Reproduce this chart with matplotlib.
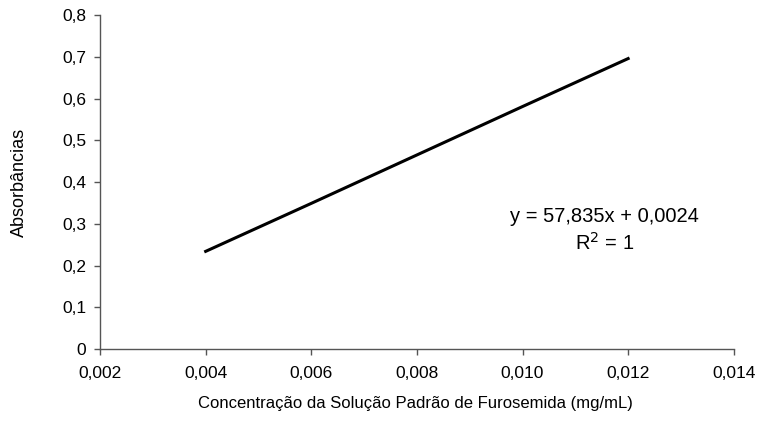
import matplotlib.pyplot as plt
from matplotlib.ticker import FuncFormatter

# Concentration (mg/mL) and absorbance of the furosemide standards
concentracao = [0.004, 0.006, 0.008, 0.010, 0.012]
absorbancia = [0.234, 0.349, 0.465, 0.581, 0.696]

plt.rcParams['font.family'] = ['Liberation Sans', 'DejaVu Sans']

fig = plt.figure(figsize=(7.58, 4.21), dpi=100)
ax = fig.add_axes([0.132, 0.171, 0.836, 0.793])

ax.plot(concentracao, absorbancia, color='black', linewidth=2.2)

ax.set_xlim(0.002, 0.014)
ax.set_ylim(0, 0.8)
ax.set_xticks([0.002, 0.004, 0.006, 0.008, 0.010, 0.012, 0.014])
ax.set_yticks([0, 0.1, 0.2, 0.3, 0.4, 0.5, 0.6, 0.7, 0.8])
ax.xaxis.set_major_formatter(FuncFormatter(lambda v, p: f'{v:.3f}'.replace('.', ',')))
ax.yaxis.set_major_formatter(FuncFormatter(lambda v, p: '0' if abs(v) < 1e-9 else f'{v:.1f}'.replace('.', ',')))

for s in ['top', 'right']:
    ax.spines[s].set_visible(False)
for s in ['left', 'bottom']:
    ax.spines[s].set_color('#555555')
    ax.spines[s].set_linewidth(1.0)
ax.tick_params(axis='both', labelsize=12.5, color='#555555', length=4, width=1.0, direction='out')
ax.tick_params(axis='x', pad=8)
ax.tick_params(axis='y', pad=6)

ax.set_xlabel('Concentração da Solução Padrão de Furosemida (mg/mL)', fontsize=12)
ax.xaxis.set_label_coords(0.498, -0.140)
ax.set_ylabel('Absorbâncias', fontsize=13)
ax.yaxis.set_label_coords(-0.113, 0.5)

ax.text(0.01155, 0.317, 'y = 57,835x + 0,0024', fontsize=14.5, ha='center', va='center')
ax.text(0.01155, 0.255, 'R$^2$ = 1', fontsize=14.5, ha='center', va='center')

fig.savefig('out.png', dpi=100)
